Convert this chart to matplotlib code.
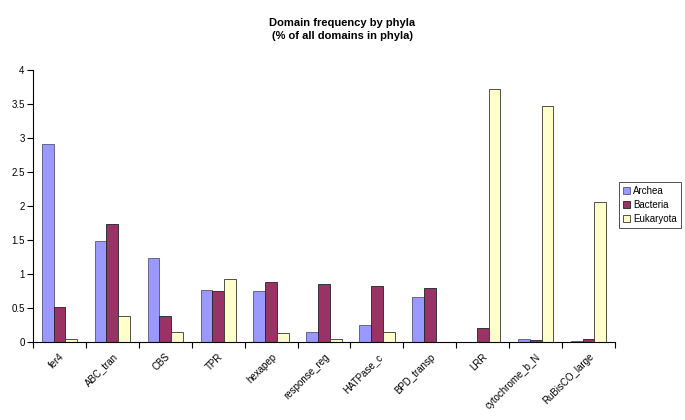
import numpy as np
import matplotlib.pyplot as plt

plt.rcParams['font.family'] = ['Liberation Sans', 'DejaVu Sans']

domains = ['fer4', 'ABC_tran', 'CBS', 'TPR', 'hexapep', 'response_reg',
           'HATPase_c', 'BPD_transp', 'LRR', 'cytochrome_b_N', 'RuBisCO_large']
archea = [2.91, 1.48, 1.24, 0.76, 0.745, 0.14, 0.245, 0.66, 0.0, 0.045, 0.01]
bacteria = [0.51, 1.73, 0.38, 0.745, 0.88, 0.85, 0.83, 0.79, 0.21, 0.03, 0.045]
eukaryota = [0.05, 0.38, 0.15, 0.93, 0.13, 0.04, 0.14, 0.0, 3.72, 3.47, 2.06]

fig = plt.figure(figsize=(6.85, 4.2), dpi=100)
ax = fig.add_axes([33 / 685, 78 / 420, 582 / 685, 272 / 420])

x = np.arange(len(domains))
w = 1 / 4.5
series = [('Archea', archea, '#9999FF', '#555577'),
          ('Bacteria', bacteria, '#993366', '#222222'),
          ('Eukaryota', eukaryota, '#FFFFCC', '#333333')]
for i, (name, vals, col, ec) in enumerate(series):
    ax.bar(x + (i - 1) * w, vals, w, color=col, edgecolor=ec,
           linewidth=0.6, label=name)

ax.set_xlim(-0.5, len(domains) - 0.5)
ax.set_ylim(0, 4)
ax.set_yticks(np.arange(0, 4.01, 0.5))
ax.set_yticklabels(['0', '0.5', '1', '1.5', '2', '2.5', '3', '3.5', '4'])
ax.set_xticks(x)
ax.set_xticklabels(domains, rotation=45, ha='right', rotation_mode='anchor')
ax.set_xticks(np.arange(-0.5, len(domains), 1), minor=True)
ax.tick_params(axis='x', which='major', length=0, pad=7, labelsize=7)
ax.tick_params(axis='x', which='minor', length=4, direction='out', width=0.8)
ax.tick_params(axis='y', length=4, direction='out', width=0.8, labelsize=7, pad=2)
for s in ['top', 'right']:
    ax.spines[s].set_visible(False)
for s in ['left', 'bottom']:
    ax.spines[s].set_linewidth(0.8)

fig.text(0.5, 1 - 29.5 / 420, 'Domain frequency by phyla\n(% of all domains in phyla)',
         ha='center', va='center', fontsize=8, fontweight='bold', linespacing=1.45)

leg = fig.legend(loc='center', bbox_to_anchor=(650 / 685, 1 - 205 / 420),
                 fontsize=7, frameon=True, fancybox=False, handlelength=0.7,
                 handleheight=0.7, handletextpad=0.3, borderpad=0.4,
                 labelspacing=0.4, edgecolor='black')
leg.get_frame().set_linewidth(0.6)

fig.savefig('out.png', dpi=100)
